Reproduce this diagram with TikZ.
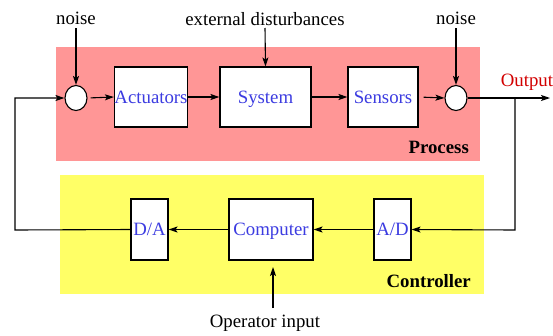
\documentclass[tikz,border=0pt]{standalone}
\usepackage{fontspec}
\setmainfont{Liberation Serif}
\usetikzlibrary{arrows.meta,shapes.geometric}
\definecolor{procpink}{RGB}{255,150,150}
\definecolor{ctrlyellow}{RGB}{255,255,102}
\definecolor{txtblue}{RGB}{60,60,225}
\definecolor{outred}{RGB}{210,0,0}
\begin{document}
\begin{tikzpicture}[x=1pt,y=-1pt,
  every node/.style={font=\fontsize{18.8}{21}\selectfont},
  blk/.style={draw=black, line width=1.1pt, fill=white, inner sep=0pt, text=txtblue, minimum height=60, text depth=0pt},
  lbl/.style={inner sep=0pt},
  conn/.style={line width=1.1pt, -{Stealth[length=9pt,width=6pt,inset=2pt]}}
]
\useasboundingbox (0,0) rectangle (553,335);
% backgrounds
\fill[procpink] (56,47) rectangle (480,161);
\fill[ctrlyellow] (60,175) rectangle (484,294);
\node[lbl, font=\fontsize{18.8}{21}\selectfont\bfseries, anchor=east] (proc) at (469,147) {Process};
\node[lbl, font=\fontsize{18.8}{21}\selectfont\bfseries, anchor=east] (ctrl) at (471,281) {Controller};
% process blocks
\node[blk, minimum width=70] (act) at (151,97) {Actuators};
\node[blk, minimum width=91] (sys) at (265.5,97) {System};
\node[blk, minimum width=70] (sen) at (383,97) {Sensors};
\node[draw=black, line width=1.1pt, fill=white, ellipse, minimum width=22, minimum height=25, inner sep=0pt] (s1) at (76,98) {};
\node[draw=black, line width=1.1pt, fill=white, ellipse, minimum width=22, minimum height=25, inner sep=0pt] (s2) at (456,98) {};
% top labels
\node[lbl] (n1) at (76,18) {noise};
\node[lbl] (ext) at (265,19) {external disturbances};
\node[lbl] (n2) at (456,18) {noise};
\node[lbl, text=outred] (out) at (527,82) {Output};
\coordinate (n1b) at (76,28);
\coordinate (extb) at (265,28);
\coordinate (n2b) at (456,28);
\draw[conn] (n1b) -- (s1.north);
\draw[conn] (extb) -- (sys.north);
\draw[conn] (n2b) -- (s2.north);
\draw[conn, shorten <=3pt] (s1.east) -- (act.west);
\draw[conn] (act.east) -- (sys.west);
\draw[conn] (sys.east) -- (sen.west);
\draw[conn, shorten <=5pt] (sen.east) -- (s2.west);
\coordinate (outend) at (550,98);
\draw[conn] (s2.east) -- (outend);
% controller blocks
\node[blk, minimum width=37, minimum height=61] (da) at (149.5,229.5) {D/A};
\node[blk, minimum width=84, minimum height=61] (comp) at (271,229.5) {Computer};
\node[blk, minimum width=37, minimum height=61] (ad) at (392.5,229.5) {A/D};
\coordinate (br) at (515,98);
\coordinate (brd) at (515,230);
\draw[conn] (br) -- (brd) -- (ad.east);
\draw[conn] (ad.west) -- (comp.east);
\draw[conn] (comp.west) -- (da.east);
\coordinate (fl1) at (15,230);
\coordinate (fl2) at (15,98);
\draw[conn] (da.west) -- (fl1) -- (fl2) -- (s1.west);
\node[lbl] (op) at (265,323) {Operator input};
\coordinate (opt) at (273,308);
\coordinate (oph) at (273,267);
\draw[conn] (opt) -- (oph);
\end{tikzpicture}
\end{document}
